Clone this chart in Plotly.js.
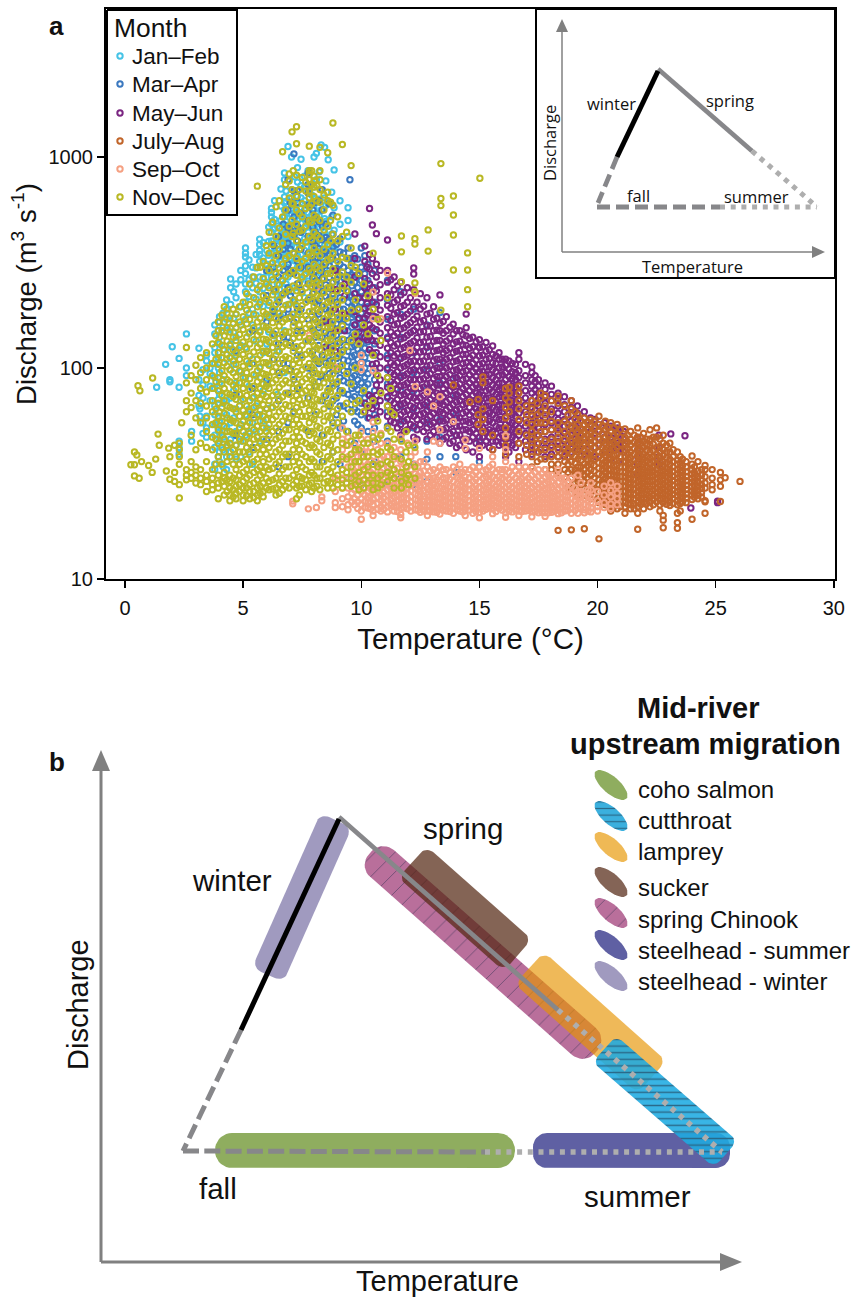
<!DOCTYPE html>
<html><head><meta charset="utf-8">
<script src="https://cdn.plot.ly/plotly-3.0.1.min.js"></script>
<style>html,body{margin:0;padding:0;background:#fff}</style></head>
<body><div id="chart" style="width:853px;height:1297px"></div>
<script>
// Each row: temperature (°C), then the discharge readings (m3/s) seen at that temperature.
const janFeb=[[1.34,[81]],[1.72,[104]],[1.9,[86,88]],[2.0,[126]],[2.29,[111,81,45,42,39]],[2.6,[100,92,145]],[2.82,[45,50]],[3.13,[124,88,74,66]],[3.17,[59,64]],[3.45,[115,108,59,52,47]],[3.6,[94,100,82,70]],[3.8,[160,145,125,118,105,90,80,66,60,54,48,42,35,33]],[4.0,[175,165,140,130,95,85,75,62,56,50,45,40,36]],[4.3,[210,190,170,150,110,70,60,52,42,38,33]],[4.47,[264,240,200,155,130,120,98,72,55,46,40]],[4.7,[250,215,180,140,115,85,64,50,43,37]],[5.1,[370,350,336,304,280,250,230,205,170,125,90,60,48]],[5.4,[300,270,240,190,160,110,72,55,42,35]],[5.7,[408,385,360,345,320,270,230,200,150,100,60,45]],[6.0,[360,310,285,255,220,175,130,85,52]],[6.2,[570,545,520,480,440,400,350,300,270,180,65]],[6.45,[470,440,410,380,345,310,250,210,120,75]],[6.75,[840,780,647,606,560,520,470,440,415,390,360,330,290,240,150,95]],[6.9,[1120,475,455,435,415,400,385,350,310,270,200]],[7.05,[1000,700,640,590,530,480,430,380,330,280,230]],[7.3,[890,760,650,600,550,500,450,400,340,300,250,180]],[7.6,[810,720,620,560,510,460,410,360,320,275,215]],[7.9,[740,660,590,530,470,420,370,340,290,240]],[8.1,[1040,780,610,540,490,430,390,350,300,260]],[8.3,[1140,700,560,480,420,360,320,280,230]],[8.45,[1110,640,510,440,380,330,290]],[8.6,[970,600,470,400,340]],[8.85,[868,574,450,370,310]],[9.44,[574,500,420]],
[3.3,[98,83,72,55,49]],[3.95,[150,112,100,71,58,52,44,38]],[4.15,[182,156,122,88,68,47,41,34]],[4.6,[230,172,148,104,78,58,48]],[4.9,[290,262,195,160,128,96,70,54,45,38]],[5.25,[325,262,218,182,146,105,82,64,50,40]],[5.55,[345,298,252,212,178,134,92,66,50]],[5.85,[392,332,268,238,196,158,118,78,56]],[6.08,[465,398,342,296,246,198,148,104]],[6.33,[620,505,458,372,326,284,230,190,142]],[6.6,[705,585,500,428,396,352,318,262,222,176]],[6.82,[690,615,542,495,462,425,405,378,340,302,250]],[7.18,[805,690,618,545,510,465,420,375,322,288,240,205]],[7.45,[975,730,640,575,525,485,440,390,345,295,262]],[7.75,[860,690,600,545,490,440,395,345,305,258]],[8.0,[1000,720,640,570,505,455,405,362,318,272]],[8.22,[850,630,525,465,405,345,300,250]],[8.5,[770,590,495,425,368,312]],[8.75,[680,520,430,360]],[9.1,[620,480,395]]];
const marApr=[[4.7,[120,75,48]],[5.4,[150,105,80,60,42]],[6.0,[290,220,165,120,88,64,46]],[6.5,[420,340,270,205,170,130,95,70,50,34]],[6.9,[779,560,460,390,310,240,190,140,105,76,55,38]],[7.15,[1034,690,520,430,350,280,210,165,125,88,62]],[7.3,[690,610,470,400,320,250,190,150,115,80]],[7.75,[840,740,674,590,500,420,350,300,250,210,170,135,100,72,50]],[8.05,[610,520,440,380,330,290,245,205,170,140,110,82,60]],[8.35,[699,560,470,405,345,300,265,230,195,165,140,115,92,70,48,36]],[8.8,[530,430,375,330,290,255,225,200,175,155,135,115,100,85,70,55,40]],[9.1,[410,355,310,275,245,215,190,170,150,132,116,102,90,78,66,52,35]],[9.44,[370,330,290,260,230,205,185,165,150,135,120,108,96,85,75,64,50,30]],[9.52,[779,330,270,220,180]],[9.72,[340,290,255,225,200,178,160,143,128,115,103,92,82,73,64,56,44]],[10.0,[370,300,260,230,205,182,162,146,131,118,106,95,85,76,68,60,52,40,28]],[10.28,[310,260,225,195,170,150,133,118,105,94,84,75,66,58,50]],[10.56,[290,240,205,175,150,130,115,100,88,78,68,60,52,45,36,27]],[11.11,[260,210,170,140,115,98,84,72,62,53,45,34,28]],[11.67,[230,180,140,112,92,78,66,56,46,38,30]],[12.22,[190,150,118,95,78,64,52,43,35,28]],[12.78,[160,125,98,80,66,55,45,37,29]],[13.33,[183,105,85,70,57,47,38]],[14.0,[90,74,60,48,38,32]],[15.0,[60,45,36]],
[6.3,[380,300,235,185,145,110]],[6.7,[480,365,290,225,180,140,105]],[7.0,[610,450,365,290,220,175,132,98]],[7.45,[540,440,365,300,235,190,150,115]],[7.95,[560,465,395,325,270,225,185,150,120,95]],[8.2,[620,495,425,368,315,275,240,208,180,155,128,105,86]],[8.5,[480,415,355,315,280,248,218,190,168,148,126,106,90,74]],[8.65,[600,410,345,305,268,238,212,186,165,145,125,108,94,80,66]],[8.95,[385,335,295,262,232,205,182,162,143,126,111,97,84,72,60]],[9.25,[350,300,268,238,212,190,170,152,136,122,109,97,87,76,66,56]],[9.6,[315,275,245,218,195,174,156,140,126,113,101,90,80,71,62]],[9.85,[328,275,240,214,191,170,153,137,123,110,99,88,79,70,62,54]],[10.15,[340,280,245,215,192,172,154,138,124,112,100,90,81,72]]];
const mayJun=[[8.5,[165,125]],[8.9,[290,235,190,150,120]],[9.3,[250,220,180,150]],[9.73,[431,330,270,225,185,160,140]],[10.15,[378,320,265,240,215,192,172,155,140,68,62]],[10.35,[570,345,295,250,215,185,160,140,122,74,66,58]],[10.47,[476,330,280,240,205,178,155,135,118,104,72,64]],[10.64,[433,310,270,232,200,174,152,134,118,105,93,83,74,66,58]],[11.11,[404,290,255,225,198,175,155,138,124,111,100,90,81,73,66,59,52]],[11.39,[270,235,205,180,160,142,127,114,103,93,84,76,68,62,55]],[11.67,[255,222,195,172,153,137,123,111,100,90,82,74,67,60,54,48]],[11.95,[240,205,180,160,143,128,115,104,94,85,77,70,63,57,51]],[12.22,[298,279,235,195,170,150,134,120,108,98,88,80,72,65,59,53,47]],[12.5,[225,190,165,148,132,119,107,97,88,80,72,66,60,54]],[12.78,[215,180,158,140,126,113,102,92,84,76,69,63,57,52,46]],[13.06,[195,170,150,134,120,108,98,89,81,74,67,61,55,50]],[13.33,[222,163,150,135,122,110,100,91,83,75,68,62,56,51,44]],[13.6,[175,150,134,121,110,100,91,83,76,69,63,57,52,47]],[13.89,[161,145,130,118,107,97,89,81,74,67,61,55,50,45]],[14.17,[150,134,121,110,100,92,84,77,70,64,58,53,48,43]],[14.44,[180,155,142,128,116,106,97,89,82,75,68,62,56,51,46,41]],[14.72,[140,126,115,105,96,88,81,74,68,62,56,51,47,40]],[15.0,[136,125,114,104,96,88,81,75,69,63,57,52,47,43,38]],[15.28,[132,120,110,101,93,85,78,72,66,60,55,50,45]],[15.56,[127,116,106,98,90,83,77,71,65,60,55,50,45,41]],[15.83,[118,110,100,92,85,79,73,67,62,57,52,47,43]],[16.11,[110,103,95,88,81,75,69,64,59,54,50,46,42,38]],[16.39,[105,96,89,82,76,70,65,60,55,51,47,43]],[16.67,[118,110,97,90,83,77,71,66,61,56,52,48,44,36]],[17.22,[101,95,88,82,76,70,65,60,55,51,47,43,39]],[17.5,[88,82,76,71,66,61,57,52,48,44,40]],[17.78,[85,79,73,68,63,58,54,50,46,42,38]],[18.33,[76,71,66,61,57,53,49,45,42,38]],[18.89,[70,65,60,56,52,48,44,40]],[19.44,[62,58,54,50,46,43,39]],[19.9,[57,53,49,45,42,38]],[20.56,[53,50,47,44,41,37]],[21.11,[50,46,43,40,36]],[21.7,[46.8,44,41,38,35,31]],[22.6,[48,42,38,35]],[23.1,[48.7]],[23.7,[47.7]],[23.95,[21.7]],[25.08,[23,23.4]],
[9.9,[280,215,172,148,134]],[10.25,[300,228,202,178,150,136,65]],[10.8,[290,248,215,188,165,146,128,113,100,88,78,70,62]],[11.25,[262,222,192,168,148,132,118,106,95,86,78,70,63,56]],[11.53,[245,210,183,162,146,130,117,106,96,87,79,71,65,58,52]],[11.81,[228,198,175,155,139,125,113,102,92,83,75,68,62,56,50]],[12.08,[215,186,164,147,131,118,107,97,88,80,73,66,60,54]],[12.36,[205,176,156,139,125,113,102,93,84,76,70,63,57,51,46]],[12.64,[196,168,149,133,120,108,98,89,81,74,67,61,56,50]],[12.92,[182,158,141,127,114,103,94,85,78,71,65,59,54,48]],[13.2,[172,151,135,121,110,100,91,83,76,69,63,58,53,47]],[13.47,[166,146,130,118,107,97,88,80,73,67,61,56,51,46]],[13.75,[156,138,124,112,102,93,85,78,71,65,59,54,49,44]],[14.03,[150,133,120,108,98,90,82,75,69,63,58,53,48,42]],[14.3,[144,129,116,105,96,88,80,73,67,61,56,51,46]],[14.58,[138,124,112,102,93,85,78,71,65,60,55,50,45]],[14.86,[133,120,109,99,91,83,76,70,64,59,54,49,44]],[15.14,[126,115,105,96,88,81,74,68,62,57,52,47,43]],[15.42,[122,111,101,93,86,79,72,66,61,56,51,47,42]],[15.7,[114,105,96,88,81,75,69,63,58,53,49,45]],[15.97,[110,101,93,85,79,73,67,62,57,52,48,44]],[16.25,[108,99,91,84,77,71,66,61,56,52,48,44,40]],[16.53,[104,95,88,81,75,69,64,59,54,50,46,42]],[16.95,[104,92,85,78,72,67,62,57,53,49,45,41]],[17.36,[92,86,79,73,68,63,58,54,50,46,42]],[18.05,[82,75,70,64,60,55,51,47,43,39]],[18.6,[73,67,62,57,53,49,45,41,38]],[19.15,[66,61,56,52,48,44,41]],[19.7,[58,54,50,46,43,40]],[20.3,[55,51,47,44,40]],[20.85,[52,48,44,41]]];
const julyAug=[[13.9,[83]],[14.6,[69]],[14.95,[71,60,54]],[15.15,[90.7,85,64,57,50]],[15.56,[70,48,41]],[16.11,[80,72,65,58,52,47,43,39]],[16.26,[81,76,69,62]],[16.67,[82,76,70,64,57,50,44,38]],[17.22,[70,64,59,54,50,46,42,38,34]],[17.6,[76,72,62,55,50,46,41,37]],[17.78,[74,66,60,55,50,45,41,37,33]],[18.33,[73.6,68,55,51,47,44,41,38,35,32,17]],[18.61,[66,56,50,46,42,39,36,33,30]],[18.89,[70,64,53,49,45,42,39,36,33,30,27,17.1]],[19.17,[60,54,50,46,43,40,37,34,32,29,27,25]],[19.44,[58,54,50,47,44,41,38,35,33,31,29,27,25,17.3]],[19.72,[57,53,49,46,43,40,37,35,33,31,29,27,25.5,24]],[20.06,[59,54,50,46,43,40,38,35.5,33.5,31.5,29.5,28,26,24.5,23,15.5]],[20.33,[56,51,47,44,41,38.5,36,34,32,30,28.5,27,25.5,24,22.5]],[20.56,[55,50,46,43,40,37.5,35,33,31,29.5,28,26.5,25,23.5,22,21]],[20.83,[54,49,45,42,39,36.5,34.5,32.5,30.5,29,27.5,26,24.5,23,21.5]],[21.16,[51.4,47,44,41,38,36,34,32,30.5,29,27.5,26,24.5,23,22,20.5]],[21.4,[50,46,43,40,37.5,35.5,33.5,31.5,30,28.5,27,25.5,24,22.5,21.5]],[21.7,[52,47,44,41,38.5,36,34,32,30.5,29,27.5,26,24.5,23,22,20.5,17.2]],[21.95,[49,45,42,39,37,35,33,31.5,30,28.5,27,25.5,24,23,21.5]],[22.22,[51,46,43,40,37.5,35.5,33.5,32,30.5,29,27.5,26,24.5,23.2,22]],[22.5,[52,47,42,39,37,35,33,31.5,30,28.5,27,25.7,24.5,23.2]],[22.78,[48,44,41,38.5,36,34,32.5,31,29.5,28,26.7,25.3,24,23,20,19,17.5]],[23.06,[44,40,37,35,33,31.5,30,28.5,27,25.8,24.6,23.4,22.3]],[23.38,[40,36.6,35,33,31.5,30,28.7,27.3,26,24.8,23.5,22.5,20.5,17.4,18.5]],[23.6,[37,34.5,32.5,31,29.5,28.2,27,25.7,24.5,23.2]],[24.0,[38.3,35,33,31.4,30,28.7,27.4,26.1,25,23.8,19.2]],[24.25,[36,32.5,30.5,29,27.6,26.3,25,24]],[24.55,[34.5,33,30.5,28.5,27,23.5,23.2,20.5]],[24.85,[33,30,28,26.5]],[25.2,[32,29.5,27.5,23.3]],[25.4,[30.2]],[26.03,[29]],
[17.0,[66,60,55,48,43,39]],[17.45,[68,60,55,48,44,40,36]],[18.05,[70,62,56,51,46,42,38,35,33]],[18.75,[60,54,48,44,41,38,35,32,29,27]],[19.05,[62,57,52,47,44,41,38,35.5,33,31,28.5,26]],[19.3,[56,51,48,45,42,39,36.5,34,32,30,28,26]],[19.58,[55,51,48,45,42,39.5,37,34.5,32,30,28,26.5,24.5]],[19.85,[56,52,48,45,42,39,37,34.5,32.5,30,28.5,26.5,25]],[20.2,[53,49,45,42,39.5,37,35,33,31,29,27.5,26,24.5,23]],[20.45,[52,48,45,42,39.5,37,35,33,31,29.5,27.8,26.2,24.8,23.3]],[20.7,[52,48,44,41,38.5,36.5,34.5,32.5,31,29.3,27.7,26.2,24.8,23.2,22]],[20.97,[51,47,43.5,40.5,38,36,34,32.2,30.6,29,27.5,26,24.6,23.2,22]],[21.28,[48,44.5,41.5,39,37,35,33,31.3,29.8,28.3,26.8,25.3,24,22.7]],[21.55,[48,44.5,41.5,39,36.8,34.8,33,31.3,29.6,28.2,26.7,25.3,24,22.7,21.5]],[21.82,[47,44,41,38.5,36.5,34.5,32.7,31,29.5,28,26.6,25.2,24,22.6]],[22.08,[46,43,40.5,38,36,34,32.3,30.8,29.3,27.8,26.4,25.2,24,22.8]],[22.36,[47,43.5,40.5,38,36,34,32.5,30.8,29.2,27.8,26.4,25,23.8,22.5]],[22.64,[46,42.5,40,38,36,34,32,30.5,29,27.6,26.2,25,23.8,22.5,21]],[22.92,[43,40,37.5,35.5,33.5,32,30.5,29,27.6,26.3,25,23.8,22.6]],[23.2,[41,38,36,34,32.3,30.7,29.2,27.8,26.4,25.2,24,22.8]],[23.5,[38,35.5,33.7,32,30.5,29,27.7,26.4,25.2,24,22.8,21]],[23.75,[36,34,32.2,30.6,29.2,27.8,26.6,25.3,24.2,23]],[24.1,[34,32,30.5,29,27.8,26.5,25.4,24.4]],[24.4,[33,31,29.5,28,26.8,25.6,24.5]]];
const sepOct=[[7.1,[22.7,23.4]],[7.76,[21.5]],[7.8,[143]],[8.1,[21.8,240]],[8.33,[23.5,24.5]],[8.9,[101,30,26,23,21.8]],[9.2,[52,46,41,37,33,30,27,24,22]],[9.44,[47,43,38,34,30,27,24.5,22.5,21.3]],[9.72,[43,40,36,32,29,26.5,24,22.5]],[10.0,[115,105,98,50,46,42,38,34,31,28.5,26,24,22.5,21,19.2]],[10.28,[46,40,35,31,28,26,24.5,23,21.7]],[10.5,[229,171,97,55.5,50,45,38,33,30,27.5,25.5,24,22.5,21,20]],[10.83,[171,49,44,37,32,29,27,25,23.5,22,21]],[11.11,[282,44,38,34,31,28.5,26.5,25,23.5,22,20.8]],[11.39,[42,37,33,30,28,26,24.5,23,22,21]],[11.67,[47,41,36,32,29.5,27.5,25.7,24.2,22.8,21.6,20.2,19.5]],[11.95,[44,34,31,29,27,25.5,24,22.7,21.5]],[12.06,[121]],[12.28,[226,81.6,45,40,35,31.5,29,27,25.3,23.8,22.5,21.3]],[12.5,[36,32,29.7,27.7,26,24.5,23,21.8,20.7]],[12.8,[77,40,34,31,28.6,26.7,25,23.5,22.2,21,20]],[13.06,[66,45,33,30,28,26.2,24.6,23.2,22,20.8]],[13.33,[73,51,44,34,31,29,27,25.4,24,22.7,21.5,20.3]],[13.6,[33,30,28,26.2,24.8,23.4,22.2,21]],[13.9,[55.7,34,31,29,27.2,25.6,24.2,22.9,21.7,20.5]],[14.17,[35,32,29.7,27.7,26,24.5,23.2,22,21]],[14.4,[45.6,41.6,33,30.5,28.5,26.7,25.2,23.8,22.5,21.3,20]],[14.72,[34,31,29,27,25.5,24,22.8,21.6,20.5]],[15.0,[41.6,34,31,29,27.3,25.7,24.3,23,21.8,20.7,19.5]],[15.28,[33,30.5,28.5,26.7,25.2,23.8,22.5,21.4]],[15.56,[38,35,33,30.5,28.5,26.8,25.3,24,22.7,21.5,20.4]],[15.83,[33,30.5,28.6,26.9,25.4,24,22.8,21.6]],[16.11,[47.7,41,36,33,30.7,28.8,27,25.5,24.2,23,21.8,20.6,19.6]],[16.39,[34,31,29,27.2,25.6,24.3,23,21.9,20.8]],[16.67,[34,31.5,29.3,27.5,26,24.6,23.3,22.1,21,20]],[16.95,[34,31,29.2,27.4,25.9,24.5,23.2,22,21]],[17.22,[33.5,31,29,27.2,25.7,24.3,23,21.9,20.9,19.7]],[17.5,[33,30.7,28.7,27,25.5,24.1,22.8,21.7,20.6]],[17.78,[33,30.5,28.5,26.8,25.3,24,22.7,21.6,20.6,19.8]],[18.06,[31,29,27.2,25.6,24.2,22.9,21.8,20.7]],[18.33,[33,30.5,28.5,26.7,25.2,23.8,22.5,21.4,20.4]],[18.61,[30,28,26.2,24.7,23.3,22.1,21]],[18.89,[30,27.5,25.5,24,22.7,21.5,20.5]],[19.17,[31,26,24.3,22.8,21.6,20.5]],[19.44,[25.5,24,22.6,21.3,20.6]],[19.72,[28.5,26.5,24.5,23,21.7,20.8]],[20.0,[26,23.5,22,21]],[20.28,[27.5,25,23,21.8]],[20.56,[28.5,26.3,24.5,22.7,21.5]],[20.83,[27.5,25.5,24,22.5]],
[9.6,[36,32,28.5,25.5,23.2]],[9.85,[38,34,30,27.5,25,23.2,21.6]],[10.15,[40,36,32.5,29.5,27,25,23.3,21.8]],[10.4,[42,36.5,32,29,26.8,24.8,23.2,21.5]],[10.7,[41,35,31,28.5,26.3,24.4,22.8,21.4]],[10.95,[38,33.5,30,27.8,25.8,24.2,22.7,21.4]],[11.25,[40,35,31.5,29,27,25.2,23.7,22.3]],[11.53,[38,33.5,30.5,28.2,26.3,24.7,23.3,22,20.9]],[11.8,[35,32,29.5,27.5,25.8,24.2,22.9,21.7]],[12.1,[38,33,30.2,28,26.2,24.6,23.2,22,21]],[12.4,[34,30.8,28.5,26.6,25,23.6,22.4,21.2]],[12.65,[36,32.5,30,27.9,26.2,24.7,23.3,22.1,21]],[12.92,[32.5,30,27.9,26.2,24.7,23.3,22.1,21]],[13.2,[32,29.5,27.5,25.8,24.3,23,21.8,20.7]],[13.47,[33,30.2,28.2,26.4,24.9,23.5,22.3,21.2]],[13.75,[32,29.6,27.6,25.9,24.4,23.1,21.9,20.9]],[14.05,[33,30.3,28.2,26.5,25,23.6,22.4,21.3]],[14.3,[32,29.5,27.5,25.9,24.4,23,21.9,20.8]],[14.58,[33,30.2,28.2,26.5,24.9,23.5,22.3,21.2]],[14.85,[32,29.7,27.7,26,24.6,23.2,22,20.9]],[15.15,[32.5,30,27.9,26.2,24.7,23.3,22.1,21]],[15.42,[34,31,28.9,27,25.4,24,22.8,21.7]],[15.7,[32,29.6,27.6,26,24.6,23.2,22,20.9]],[15.97,[33,30.2,28.2,26.4,24.9,23.5,22.3,21.2]],[16.25,[32,29.7,27.7,26.1,24.6,23.3,22.1,21]],[16.53,[32.5,30,28,26.3,24.8,23.5,22.3,21.2]],[16.8,[32,29.7,27.7,26,24.6,23.2,22,20.9]],[17.08,[32.5,30,28,26.3,24.8,23.4,22.2,21.1]],[17.36,[32,29.7,27.7,26,24.5,23.2,22,20.9]],[17.64,[31.5,29.2,27.3,25.7,24.2,22.9,21.7,20.7]],[17.92,[31,28.8,27,25.4,24,22.8,21.7,20.6]],[18.2,[30,27.8,26,24.5,23.2,22,21]],[18.47,[30,27.5,25.7,24.2,22.9,21.7,20.6]],[18.75,[28.5,26.5,24.8,23.4,22.2,21.1]],[19.05,[27,25.2,23.6,22.3,21.1]],[19.3,[28.5,26,24.4,23,21.7]],[19.6,[26.5,24.8,23.4,22.1,21]]];
const novDec=[[0.25,[34.8]],[0.4,[40,34.8,30.8]],[0.5,[38.7]],[0.55,[82.4]],[0.6,[30]],[0.63,[78]],[0.7,[36]],[1.0,[34.5]],[1.15,[32]],[1.17,[89.6]],[1.3,[37]],[1.4,[48.6]],[1.45,[43]],[1.75,[32.5]],[1.85,[41.7]],[1.9,[38,29.7]],[2.1,[43,32,29]],[2.3,[44,41,38,35,28,24.2]],[2.4,[55]],[2.6,[125,85,70,62,33,31,29.5]],[2.8,[92,76,65,48,36,32,30]],[3.0,[103,88,70,58,41,34,31,28.5]],[3.2,[112,95,80,68,55,44,33,30,28]],[3.45,[118,100,88,77,66,58,50,42,36,31,29,26]],[3.7,[130,105,92,80,70,62,54,47,41,33,30,28,26.5]],[3.95,[165,150,132,118,104,90,78,68,59,51,44,38,31,28.5,27,24]],[4.2,[195,165,142,122,106,92,80,70,61,53,46,40,32,30,27.5,25]],[4.44,[172,148,128,112,98,86,75,65,57,50,44,38,31,29,27,25,23.5]],[4.7,[180,155,135,118,104,91,80,71,62,55,49,43,38,33,29.5,27.5,25.5,24]],[5.0,[205,175,152,133,116,102,90,80,71,63,56,50,45,40,36,32,29,27,25,23.5]],[5.28,[250,200,170,148,130,114,101,89,79,70,62,55,49,44,39,35,31,28,26,24]],[5.6,[727,300,235,195,165,143,125,110,97,86,76,68,60,53,47,42,37,33,29.5,27,25,23.5]],[5.85,[320,265,220,185,158,137,120,106,94,84,75,67,59,52,46,41,36,32,28.5,26,24.5]],[6.1,[440,350,290,240,205,175,152,133,117,103,91,80,70,61,54,48,42,37,33,29,26.5]],[6.39,[580,420,340,280,235,200,172,150,131,115,101,88,77,67,59,52,46,40,35,30,27,25]],[6.67,[1059,520,390,310,260,222,190,165,144,126,110,96,84,73,64,56,49,43,38,33,29,26.5]],[6.95,[830,770,640,470,340,280,235,200,172,148,128,111,97,85,75,66,58,51,45,39,34,30,27]],[7.07,[1315,700,600,500,420]],[7.26,[1390,1155,820,650,560,480,400,330,275,232,197,170,146,126,110,96,84,74,65,57,50,44,38,33,29,27,24]],[7.5,[800,600,520,450,380,320,270,230,198,170,147,128,112,98,86,76,67,59,52,45,39,34,30,27.5]],[7.8,[1125,860,830,780,690,640,580,500,420,350,295,250,215,185,160,138,120,105,92,81,72,63,55,48,42,36,31,28]],[8.0,[810,770,720,650,530,440,370,310,265,228,196,170,148,128,112,98,86,76,66,57,49,42,36,31,27]],[8.25,[1110,860,780,700,610,500,410,340,290,248,214,185,160,140,122,107,93,81,70,60,52,45,39,34,30,26.5]],[8.58,[1047,680,620,470,385,325,280,240,205,178,155,135,118,103,90,78,68,59,51,44,38,33,29,27]],[8.8,[1449,590,430,350,295,255,220,190,165,143,124,108,94,82,71,62,53,46,40,34,30,27]],[9.2,[1145,420,335,285,245,210,182,158,137,119,103,78,59,44,38,33,29.5,27]],[9.57,[910,370,305,255,188,135,84,62,45,39,34,30,27.5]],[9.9,[280,190,130,70,48,41,36,32,29,26.5]],[10.28,[220,145,66,44,38,34,31,28.5]],[10.5,[350,190,115,70,47,40,35,31,28.5,26.5]],[10.83,[135,76,48,40,35,31,28]],[11.11,[215,90,66,52,42,36,32,29]],[11.39,[60,46,38,33,30,27]],[11.7,[422,355,256,45,37,32,29,27]],[12.0,[43,36,31,28]],[12.27,[410,387,253,230,42,34,30]],[12.83,[451,358]],[13.37,[930,635,588,188]],[13.9,[653,531,427,291]],[14.5,[351,291,235,195]],[15.02,[793]],
[3.85,[142,110,86,64,55,46,35]],[4.1,[178,150,128,112,97,84,74,65,56,48,42,35,29]],[4.32,[182,155,134,116,102,88,76,66,58,50,43,36,29.5,26]],[4.58,[190,162,140,122,108,95,83,73,64,56,49,41,35,30,26.5,24.5]],[4.85,[195,165,144,125,110,97,85,75,66,59,52,46,40,35,31,28,26]],[5.15,[225,188,162,140,123,108,95,84,74,66,59,53,47,42,37,33,30,27,24.8]],[5.45,[270,215,180,155,136,119,105,93,82,73,65,58,51,46,41,36,32,28.5,26,24.3]],[5.72,[300,245,205,172,148,130,115,101,90,80,71,63,56,50,44,39,34,31,27.5,25.5]],[5.98,[380,305,250,212,180,156,136,120,106,93,82,73,64,57,50,44,39,34,30,27]],[6.25,[490,385,315,262,222,190,164,143,125,110,96,85,74,65,57,50,44,38,33.5,29.5,26.7]],[6.53,[620,460,365,298,248,210,182,158,138,120,105,92,81,71,62,54,47,41,36,31.5,28,25.5]],[6.8,[740,560,430,330,272,230,198,170,148,130,113,99,87,76,67,59,51,45,39,34,30,27.5]],[7.12,[860,600,435,350,290,245,210,180,158,138,120,104,91,80,70,61,54,47,41,36,31,28]],[7.38,[700,540,445,365,300,252,215,184,160,140,122,106,93,81,71,62,54,47,41,35.5,30.5,27.5,25]],[7.65,[760,690,570,470,395,330,280,240,205,177,154,134,116,101,89,78,68,59,51,44,38,33,29.5,26.5]],[7.9,[860,740,600,490,405,340,285,243,208,178,154,133,116,101,88,77,67,58,50,43,37,32,28.5,26]],[8.12,[730,620,515,425,355,300,255,220,190,165,143,124,108,94,82,71,62,53,46,40,34,30,27.5]],[8.42,[660,560,450,365,310,265,228,197,171,149,130,113,98,85,74,64,56,48,42,36,31.5,28.5]],[8.7,[610,500,400,330,280,240,207,180,156,136,118,103,89,77,67,58,50,43,37,32,28.5]],[9.0,[520,400,320,270,232,200,174,151,131,114,99,86,74,64,55,48,41,36,31,28]],[9.38,[440,330,270,232,172,126,94,68,50,43,37,32,28.5]],[9.75,[300,210,145,100,68,48,41,36,31,28]],[10.1,[250,160,78,62,44,38,33,29.5,27]],[10.7,[170,92,56,46,39,34,30,27]],[11.25,[80,62,50,41,35,31]],[11.9,[50,40,34,30]]];
const tempTicks=[0,5,10,15,20,25,30];
const dischargeTicks=[10,100,1000];
const monthSeries=[['Jan–Feb',janFeb,'#45C3E6'],['Mar–Apr',marApr,'#3B78BF'],['May–Jun',mayJun,'#7B2682'],['July–Aug',julyAug,'#C1652A'],['Sep–Oct',sepOct,'#F5A082'],['Nov–Dec',novDec,'#B9B824']];

const data=[];
const MARK={symbol:'circle-open',size:5.4,line:{width:2}};
for(const [name,rows,color] of monthSeries){
  const x=[],y=[];
  rows.forEach(([t,qs])=>qs.forEach(q=>{x.push(t);y.push(q);}));
  data.push({type:'scatter',mode:'markers',name,x,y,xaxis:'x',yaxis:'y',showlegend:false,
    marker:{symbol:MARK.symbol,size:MARK.size,color,line:{width:MARK.line.width,color}}});
}

// --- schematic layer, in page-sized coordinates on a hidden overlay axis pair ---
const ov={xaxis:'x2',yaxis:'y2',hoverinfo:'skip',showlegend:false};
function poly(x,y,o){data.push(Object.assign({type:'scatter',mode:'lines',x,y,fill:'toself',line:{width:0}},ov,o));}
function line(pts,color,width,dash){data.push(Object.assign({type:'scatter',mode:'lines',x:pts.map(p=>p[0]),y:pts.map(p=>p[1]),line:{color,width,dash:dash||'solid',simplify:false}},ov));}
function band(A,B,w,r){
  const L=Math.hypot(B[0]-A[0],B[1]-A[1]),ux=(B[0]-A[0])/L,uy=(B[1]-A[1])/L,h=w/2,xs=[],ys=[];
  const corners=[[L-r,h-r,0],[r,h-r,90],[r,r-h,180],[L-r,r-h,270]];
  for(const [a,b,s] of corners)for(let d=0;d<=90;d+=10){
    const th=(s+d)*Math.PI/180,p=a+r*Math.cos(th),q=b+r*Math.sin(th);
    xs.push(A[0]+ux*p-uy*q);ys.push(A[1]+uy*p+ux*q);
  }
  xs.push(xs[0]);ys.push(ys[0]);return [xs,ys];
}
function ellipse(c,a,b,deg){
  const xs=[],ys=[],t=deg*Math.PI/180;
  for(let d=0;d<=360;d+=10){const e=d*Math.PI/180,p=a*Math.cos(e),q=b*Math.sin(e);
    xs.push(c[0]+p*Math.cos(t)-q*Math.sin(t));ys.push(c[1]+p*Math.sin(t)+q*Math.cos(t));}
  return [xs,ys];
}
const rectPts=(x0,y0,x1,y1)=>[[x0,x1,x1,x0,x0],[y0,y0,y1,y1,y0]];
const GREY='#87878A',LIGHT='#AEAEAE',ARROW='#808080',DASH='13px,6px',DOT='5px,5.7px';

// legend box panel a
poly(...rectPts(107,10,237,215),{fillcolor:'#fff',line:{color:'#000',width:2}});
const legendRows=[56,84,113,141,169,197];
monthSeries.forEach(([n,r,color],i)=>data.push(Object.assign({type:'scatter',mode:'markers',x:[120],y:[legendRows[i]],
  marker:{symbol:MARK.symbol,size:MARK.size,color,line:{width:MARK.line.width,color}}},ov)));

// inset panel
poly(...rectPts(536,9,835,278),{fillcolor:'#fff',line:{color:'#000',width:2}});
line([[562,252],[562,30]],ARROW,1.5);line([[562,252],[814,252]],ARROW,1.5);
poly([556,568,562,556],[32,32,19,32],{fillcolor:ARROW});
poly([812,812,825,812],[246,258,252,246],{fillcolor:ARROW});
line([[658,69],[752,151]],GREY,4.7);
line([[752,151],[817,207]],LIGHT,5,DOT);
line([[617,157],[598,203]],GREY,4.7,DASH);
line([[658,71],[617,157]],'#000',5);
line([[720,207],[817,207]],LIGHT,5,DOT);
line([[597,207],[720,207]],GREY,5,DASH);

// panel b bands
const winterBand=band([336,820],[268,975],35,10);
const chinookBand=band([370,853],[596,1052],36,16);
const suckerBand=band([412,862],[518,955],43,10);
const lampreyBand=band([529,968],[652,1077],44,10);
const cutthroatBand=band([604,1049],[726,1154],36,9);
const summerBand=band([533,1150.5],[730,1150.5],35,14);
const cohoBand=band([215,1150.5],[515,1150.5],35,17);
const C={coho:'#8FAD5F',cut:'rgba(30,170,225,0.88)',lamprey:'rgba(230,147,0,0.65)',sucker:'rgba(84,40,20,0.72)',chinook:'#B96F9B',summer:'#5F60A3',winter:'#A09ABF'};
const chinookHatch={shape:'/',bgcolor:C.chinook,fgcolor:'#6A4A70',size:14,solidity:0.06};
const cutHatch={shape:'-',bgcolor:C.cut,fgcolor:'#2A6A8A',size:6.6,solidity:0.22};
poly(...winterBand,{fillcolor:C.winter});
poly(...cohoBand,{fillcolor:C.coho});
poly(...summerBand,{fillcolor:C.summer});
poly(...chinookBand,{fillcolor:C.chinook,fillpattern:chinookHatch});
poly(...suckerBand,{fillcolor:C.sucker});
poly(...lampreyBand,{fillcolor:C.lamprey});
poly(...cutthroatBand,{fillcolor:C.cut,fillpattern:cutHatch});

// panel b arrows and seasonal lines
line([[101,1262],[101,768]],ARROW,3);line([[101,1262],[722,1262]],ARROW,3);
poly([92,110,101,92],[771,771,750,771],{fillcolor:ARROW});
poly([720,720,742,720],[1253,1271,1262,1253],{fillcolor:ARROW});
line([[339,817],[558,1010]],GREY,4.7);
line([[558,1010],[722,1152]],LIGHT,5.5,DOT);
line([[241,1030],[183,1151]],GREY,5,'15px,6px');
line([[339,819],[241,1030]],'#000',5);
line([[485,1152],[722,1152]],LIGHT,5.5,DOT);
line([[183,1151],[485,1152]],GREY,5,'16px,5.3px');

// panel b legend ellipses
const keyNames=['coho salmon','cutthroat','lamprey','sucker','spring Chinook','steelhead - summer','steelhead - winter'];
const keyRows=[785,816,847,882,913,945,976],keyText=[789,820,851,887,919,950,981];
const keyStyle=[{fillcolor:C.coho},{fillcolor:'#3BB0DE',fillpattern:{shape:'-',bgcolor:'#3BB0DE',fgcolor:'#2A6A8A',size:6.6,solidity:0.18}},{fillcolor:'#EFB955'},{fillcolor:'#846456'},{fillcolor:C.chinook,fillpattern:chinookHatch},{fillcolor:C.summer},{fillcolor:C.winter}];
keyRows.forEach((y,i)=>poly(...ellipse([611,y],20.6,8.5,41),keyStyle[i]));

const A='Liberation Sans, Arial, sans-serif',O='Open Sans, sans-serif';
const T=(text,x,y,size,opt)=>Object.assign({text,x,y,xref:'x2',yref:'y2',showarrow:false,xanchor:'center',yanchor:'middle',font:{family:A,size,color:'#111'}},opt);
const left={xanchor:'left'};
const inset=(text,x,y,extra)=>T(text,x,y,16,Object.assign({font:{family:O,size:16.5,color:'#111'}},extra));
const annotations=[
 T('<b>a</b>',56,26,26),T('<b>b</b>',57,762,26),
 T('Month',112,28,26.4,left),
 ...monthSeries.map(([n],i)=>T(n,130,legendRows[i],22.5,left)),
 inset('winter',611,103),inset('spring',730,100),inset('fall',638,195),inset('summer',756,196),
 inset('Discharge',549,143,{textangle:-90}),inset('Temperature',692,266),
 T('Discharge',78,1005,29,{textangle:-90}),T('Temperature',437,1281,29),
 T('winter',232,880,29.5),T('spring',463,828,29.5),T('fall',218,1188,29.5),T('summer',637,1196,29.5),
 T('<b>Mid-river</b>',698,708,29),T('<b>upstream migration</b>',705,744,29),
 ...keyNames.map((n,i)=>T(n,636,keyText[i],24,left))
];

const layout={width:853,height:1297,margin:{l:0,r:0,t:0,b:0},paper_bgcolor:'#fff',plot_bgcolor:'rgba(0,0,0,0)',showlegend:false,hovermode:false,annotations,
 font:{family:A,color:'#111'},
 xaxis:{domain:[106/853,835/853],range:[-0.804,30.05],tickmode:'array',tickvals:tempTicks,ticktext:tempTicks.map(String),ticks:'outside',ticklen:7,tickwidth:1.5,tickcolor:'#000',ticklabelstandoff:3,showline:true,linecolor:'#000',linewidth:2,mirror:true,showgrid:false,zeroline:false,tickfont:{size:20},anchor:'y',title:{text:'Temperature (°C)',font:{size:29.5},standoff:10}},
 yaxis:{domain:[1-579/1297,1-9/1297],type:'log',range:[1,3.701],tickmode:'array',tickvals:dischargeTicks,ticktext:dischargeTicks.map(String),ticks:'outside',ticklen:7,tickwidth:1.5,tickcolor:'#000',showline:true,linecolor:'#000',linewidth:2,mirror:true,showgrid:false,zeroline:false,tickfont:{size:20},anchor:'x',title:{text:'Discharge (m<sup>3</sup> s<sup>-1</sup>)',font:{size:27.5},standoff:4}},
 xaxis2:{domain:[0,1],range:[0,853],visible:false,fixedrange:true,anchor:'y2'},
 yaxis2:{domain:[0,1],range:[1297,0],visible:false,fixedrange:true,anchor:'x2'}
};
Plotly.newPlot('chart',data,layout,{displayModeBar:false,staticPlot:true});
</script></body></html>
